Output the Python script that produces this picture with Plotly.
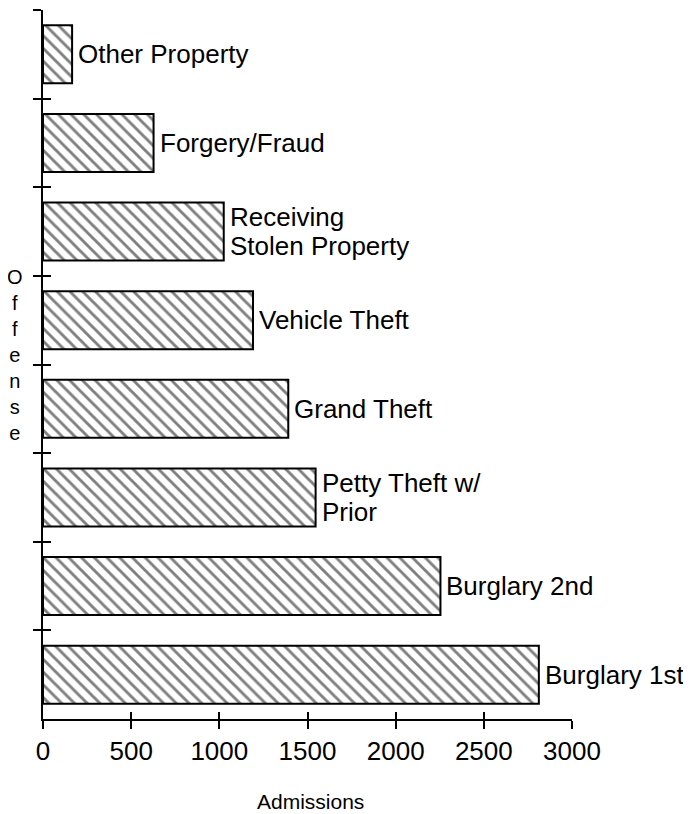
import plotly.graph_objects as go

# Data (top to bottom)
categories = ["Other Property", "Forgery/Fraud", "Receiving Stolen Property", "Vehicle Theft",
              "Grand Theft", "Petty Theft w/ Prior", "Burglary 2nd", "Burglary 1st"]
bar_labels = [["Other Property"], ["Forgery/Fraud"], ["Receiving", "Stolen Property"],
              ["Vehicle Theft"], ["Grand Theft"], ["Petty Theft w/", "Prior"],
              ["Burglary 2nd"], ["Burglary 1st"]]
admissions = [165, 627, 1025, 1191, 1391, 1546, 2254, 2812]
x_ticks = [0, 500, 1000, 1500, 2000, 2500, 3000]

FONT = "Liberation Sans, Arial, Helvetica, sans-serif"
n = len(categories)
boundaries = [i - 0.5 for i in range(n + 1)]
LINE_GAP = 29

fig = go.Figure()
fig.add_trace(go.Bar(
    y=categories, x=admissions, orientation="h",
    marker=dict(color="white",
                line=dict(color="black", width=2),
                pattern=dict(shape="\\", fgcolor="black", bgcolor="white",
                             size=9, solidity=0.32)),
    hoverinfo="x+y", showlegend=False,
))
# helper traces so overlay axes (inside ticks) are drawn
fig.add_trace(go.Scatter(x=[], y=[], xaxis="x2", yaxis="y", showlegend=False, hoverinfo="skip"))
fig.add_trace(go.Scatter(x=[], y=[], xaxis="x", yaxis="y2", showlegend=False, hoverinfo="skip"))

for cat, lines, val in zip(categories, bar_labels, admissions):
    m = len(lines)
    for k, line in enumerate(lines):
        fig.add_annotation(x=val, y=cat, xref="x", yref="y", text=line, showarrow=False,
                           xanchor="left", yanchor="middle", align="left", xshift=4,
                           yshift=((m - 1) / 2 - k) * LINE_GAP,
                           font=dict(family=FONT, size=26, color="black"))

fig.add_annotation(x=-0.053, y=0.513, xref="paper", yref="paper",
                   text="<br>".join(list("Offense")), showarrow=False,
                   xanchor="center", yanchor="middle", align="center",
                   font=dict(family=FONT, size=20, color="black"))
fig.add_annotation(x=0.506, y=-0.116, xref="paper", yref="paper",
                   text="Admissions", showarrow=False,
                   xanchor="center", yanchor="middle",
                   font=dict(family=FONT, size=21, color="black"))

# the page body adds an 8px offset, so margins are shifted to compensate
fig.update_layout(
    width=691, height=814,
    margin=dict(l=35, r=127, t=2, b=103),
    paper_bgcolor="white", plot_bgcolor="white",
    bargap=0.345,
    font=dict(family=FONT, color="black"),
    xaxis=dict(range=[0, 3000], tickvals=x_ticks, ticks="outside", ticklen=8, tickwidth=2,
               tickcolor="black", showline=True, linecolor="black", linewidth=2,
               showgrid=False, zeroline=False, tickfont=dict(size=26, color="black"),
               automargin=False),
    xaxis2=dict(range=[0, 3000], tickvals=x_ticks, ticks="inside", ticklen=7, tickwidth=2,
                tickcolor="black", overlaying="x", anchor="y", side="bottom",
                showticklabels=False, showline=False, showgrid=False, zeroline=False,
                automargin=False),
    yaxis=dict(type="category", categoryorder="array", categoryarray=categories,
               range=[n - 0.5, -0.5], ticks="outside", tickson="boundaries", ticklen=8,
               tickwidth=2, tickcolor="black", showticklabels=False, showline=True,
               linecolor="black", linewidth=2, showgrid=False, zeroline=False,
               automargin=False),
    yaxis2=dict(range=[n - 0.5, -0.5], tickvals=boundaries, ticks="inside", ticklen=8,
                tickwidth=2, tickcolor="black", overlaying="y", anchor="x", side="left",
                showticklabels=False, showline=False, showgrid=False, zeroline=False,
                automargin=False),
)

fig.write_html("out.html")
